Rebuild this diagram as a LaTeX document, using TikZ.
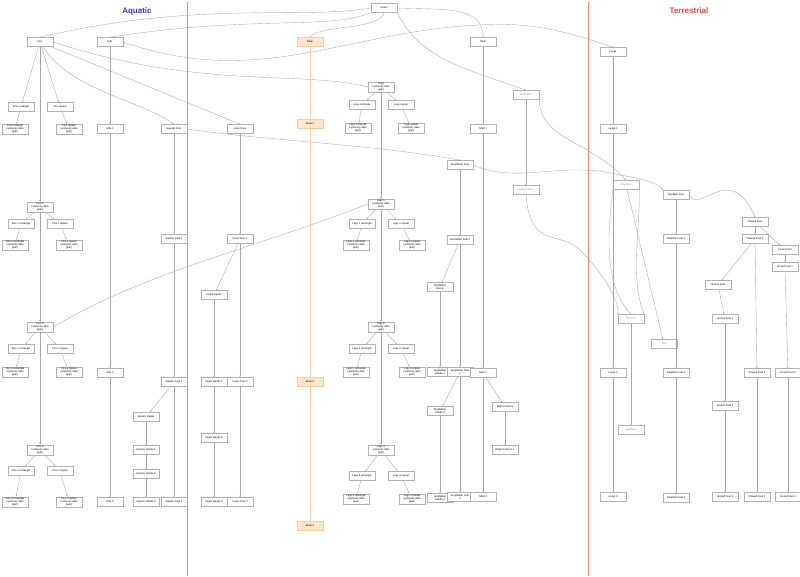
\documentclass[tikz,border=0pt]{standalone}
\usepackage{fontspec}
\setmainfont{Liberation Sans}
\usetikzlibrary{arrows.meta}
\begin{document}
\begin{tikzpicture}[x=1pt,y=-1pt,
 b/.style={draw=black!30,fill=white,line width=0.5pt,minimum width=26pt,minimum height=9pt,inner sep=1pt,font=\fontsize{2.6}{3}\selectfont,align=center},
 o/.style={b,fill=orange!20,draw=orange!40},
 g/.style={b,text=black!50},
 e/.style={draw=black!35,line width=0.35pt,-{Stealth[length=1.5pt,width=1.5pt]}},
 eo/.style={e,draw=orange!35}]
\useasboundingbox (0,0) rectangle (800,576);
\draw[line width=0.8pt,draw=blue!40] (187,2) -- (187,576);
\draw[line width=0.8pt,draw=red!50] (588,2) -- (588,576);
\node[text=blue!80,font=\bfseries\fontsize{8}{9}\selectfont] (ta) at (137,11) {Aquatic};
\node[text=red!75,font=\bfseries\fontsize{8}{9}\selectfont] (tt) at (689,11) {Terrestrial};
% nodes
\node[b] (ins) at (384,8) {Insect};
\node[b] (fins) at (40,42) {Fins};
\node[b] (gills) at (110,42) {Gills};
\node[o] (beak) at (310,42) {Beak};
\node[b] (shell) at (483,42) {Shell};
\node[b] (lungs) at (613,52) {Lungs};
\node[b] (legs) at (381,87) {Legs\\symmetry data\\(pair)};
\node[b] (legsr) at (362,105) {Legs rectangle};
\node[b] (legsp) at (401,105) {Legs repeat};
\node[b] (legsrd) at (358,128) {Legs rectangle\\symmetry data\\(pair)};
\node[b] (legspd) at (411,128) {Legs repeat\\symmetry data\\(pair)};
\node[b] (finsr) at (21,107) {Fins rectangle};
\node[b] (finsp) at (60,107) {Fins repeat};
\node[b] (finsrd) at (15,129) {Fins rectangle\\symmetry data\\(pair)};
\node[b] (finspd) at (69,129) {Fins repeat\\symmetry data\\(pair)};
\node[b] (g1) at (110,129) {Gills 1};
\node[b] (af) at (174,129) {Aquatic Feet};
\node[b] (if) at (240,129) {Insect Feet};
\node[o] (bk1) at (310,124) {Beak 1};
\node[b] (sh1) at (483,129) {Shell 1};
\node[b] (lu1) at (613,129) {Lungs 1};
\node[g] (ss) at (526,95) {Short Skin};
\node[b] (amf) at (460,165) {Amphibian Feet};
\node[g] (sc) at (526,190) {Scales Skin};
\node[g] (ds) at (626,185) {Dry Skin};
\node[b] (rf) at (676,195) {Reptilian Feet};
\node[b] (cf) at (755,222) {Clawed Feet};
\node[b] (ff) at (785,250) {Furred Feet};
\node[b] (ff1) at (785,267) {Furred Feet 1};
\node[b] (cf1) at (755,239) {Clawed Feet 1};
\node[b] (rf1) at (676,239) {Reptilian Feet 1};
\node[b] (hf) at (718,285) {Hoofed Feet};
\node[b] (hf1) at (725,319) {Hoofed Feet 1};
\node[b] (hf2) at (725,406) {Hoofed Feet 2};
\node[b] (hf3) at (725,497) {Hoofed Feet 3};
\node[b] (cf2) at (757,373) {Clawed Feet 2};
\node[b] (cf3) at (757,497) {Clawed Feet 3};
\node[b] (ff2) at (788,373) {Furred Feet 2};
\node[b] (ff3) at (788,497) {Furred Feet 3};
\node[b] (rf2) at (676,373) {Reptilian Feet 2};
\node[b] (rf3) at (676,498) {Reptilian Feet 3};
\node[b] (lu2) at (613,373) {Lungs 2};
\node[b] (lu3) at (613,497) {Lungs 3};
\node[g] (dt) at (631,319) {Dry Turf};
\node[g] (fur) at (664,344) {Fur};
\node[g] (fea) at (631,430) {Feathers};
\node[b] (f1) at (40,207) {Fins 1\\symmetry data\\(pair)};
\node[b] (f1r) at (21,224) {Fins 1 rectangle};
\node[b] (f1p) at (60,224) {Fins 1 repeat};
\node[b] (f1rd) at (15,245) {Fins 1 rectangle\\symmetry data\\(pair)};
\node[b] (f1pd) at (69,245) {Fins 1 repeat\\symmetry data\\(pair)};
\node[b] (af1) at (174,239) {Aquatic Feet 1};
\node[b] (if1) at (240,239) {Insect Feet 1};
\node[b] (ih) at (214,295) {Insect Hands};
\node[b] (l1) at (381,204) {Legs 1\\symmetry data\\(pair)};
\node[b] (l1r) at (362,224) {Legs 1 rectangle};
\node[b] (l1p) at (401,224) {Legs 1 repeat};
\node[b] (l1rd) at (356,245) {Legs 1 rectangle\\symmetry data\\(pair)};
\node[b] (l1pd) at (412,245) {Legs 1 repeat\\symmetry data\\(pair)};
\node[b] (amf1) at (460,240) {Amphibian Feet 1};
\node[b] (amh) at (440,287) {Amphibian\\Hands};
\node[b] (f2) at (40,327) {Fins 2\\symmetry data\\(pair)};
\node[b] (f2r) at (21,349) {Fins 2 rectangle};
\node[b] (f2p) at (60,349) {Fins 2 repeat};
\node[b] (f2rd) at (15,372) {Fins 2 rectangle\\symmetry data\\(pair)};
\node[b] (f2pd) at (69,372) {Fins 2 repeat\\symmetry data\\(pair)};
\node[b] (g2) at (110,373) {Gills 2};
\node[b] (af2) at (174,382) {Aquatic Feet 2};
\node[b] (ah) at (146,417) {Aquatic Hands};
\node[b] (ah1) at (146,450) {Aquatic Hands 1};
\node[b] (ah2) at (146,474) {Aquatic Hands 2};
\node[b] (ah3) at (146,502) {Aquatic Hands 3};
\node[b] (af3) at (174,502) {Aquatic Feet 3};
\node[b] (ih1) at (214,382) {Insect Hands 1};
\node[b] (ih2) at (214,438) {Insect Hands 2};
\node[b] (ih3) at (214,502) {Insect Hands 3};
\node[b] (if2) at (240,382) {Insect Feet 2};
\node[b] (if3) at (240,502) {Insect Feet 3};
\node[o] (bk2) at (310,382) {Beak 2};
\node[o] (bk3) at (310,526) {Beak 3};
\node[b] (l2) at (381,327) {Legs 2\\symmetry data\\(pair)};
\node[b] (l2r) at (362,349) {Legs 2 rectangle};
\node[b] (l2p) at (401,349) {Legs 2 repeat};
\node[b] (l2rd) at (356,372) {Legs 2 rectangle\\symmetry data\\(pair)};
\node[b] (l2pd) at (412,372) {Legs 2 repeat\\symmetry data\\(pair)};
\node[b] (amh1) at (440,372) {Amphibian\\Hands 1};
\node[b] (amf2) at (460,372) {Amphibian Feet\\2};
\node[b] (amh2) at (440,411) {Amphibian\\Hands 2};
\node[b] (amh3) at (440,498) {Amphibian\\Hands 3};
\node[b] (amf3) at (460,497) {Amphibian Feet\\3};
\node[b] (sh2) at (483,373) {Shell 2};
\node[b] (br) at (505,407) {Bright Colours};
\node[b] (br1) at (505,450) {Bright Colours 1};
\node[b] (sh3) at (483,497) {Shell 3};
\node[b] (f3) at (40,450) {Fins 3\\symmetry data\\(pair)};
\node[b] (f3r) at (21,471) {Fins 3 rectangle};
\node[b] (f3p) at (60,471) {Fins 3 repeat};
\node[b] (f3rd) at (15,502) {Fins 3 rectangle\\symmetry data\\(pair)};
\node[b] (f3pd) at (69,502) {Fins 3 repeat\\symmetry data\\(pair)};
\node[b] (g3) at (110,502) {Gills 3};
\node[b] (l3) at (381,450) {Legs 3\\symmetry data\\(pair)};
\node[b] (l3r) at (362,476) {Legs 3 rectangle};
\node[b] (l3p) at (401,476) {Legs 3 repeat};
\node[b] (l3rd) at (356,499) {Legs 3 rectangle\\symmetry data\\(pair)};
\node[b] (l3pd) at (412,499) {Legs 3 repeat\\symmetry data\\(pair)};
% edges
\draw[e] (ins.west) .. controls (300,20) and (200,0) .. (fins.north);
\draw[e] (ins.south west) .. controls (330,30) and (250,15) .. (gills.north);
\draw[e] (ins.south) .. controls (380,30) and (320,25) .. (beak.north);
\draw[e] (ins.east) .. controls (440,10) and (483,5) .. (shell.north);
\draw[e] (ins.south east) .. controls (420,60) and (470,70) .. (ss.north);
\draw[e] (gills.east) .. controls (260,90) and (350,30) .. (480,25) .. controls (540,20) and (590,40) .. (lungs.north);
\draw[e] (fins.east) .. controls (200,90) and (300,70) .. (legs.west);
\foreach \a/\c in {fins/finsr,fins/finsp,finsr/finsrd,finsp/finspd,fins/f1,gills/g1,g1/g2,g2/g3,
 shell/sh1,sh1/sh2,sh2/sh3,sh2/br,br/br1,lungs/lu1,lu1/lu2,lu2/lu3,legs/legsr,legs/legsp,legsr/legsrd,legsp/legspd,legs/l1,
 f1/f1r,f1/f1p,f1r/f1rd,f1p/f1pd,f1/f2,f2/f2r,f2/f2p,f2r/f2rd,f2p/f2pd,f2/f3,f3/f3r,f3/f3p,f3r/f3rd,f3p/f3pd,
 l1/l1r,l1/l1p,l1r/l1rd,l1p/l1pd,l1/l2,l2/l2r,l2/l2p,l2r/l2rd,l2p/l2pd,l2/l3,l3/l3r,l3/l3p,l3r/l3rd,l3p/l3pd,
 af/af1,af1/af2,af2/af3,af2/ah,ah/ah1,ah1/ah2,ah2/ah3,if/if1,if1/ih,ih/ih1,ih1/ih2,ih2/ih3,if1/if2,if2/if3,
 amf/amf1,amf1/amh,amh/amh1,amf1/amf2,amf2/amh2,amh2/amh3,amf2/amf3,ss/sc,
 rf/rf1,rf1/rf2,rf2/rf3,cf/cf1,cf1/cf2,cf2/cf3,cf/ff,ff/ff1,ff1/ff2,ff2/ff3,cf1/hf,hf/hf1,hf1/hf2,hf2/hf3,
 ds/fur,dt/fea}
 \draw[e] (\a) -- (\c);
\draw[e] (fins) .. controls (70,90) and (140,100) .. (af.north);
\draw[e] (fins) -- (if.north);
\draw[eo] (beak) -- (bk1);
\draw[eo] (bk1) -- (bk2);
\draw[eo] (bk2) -- (bk3);
\draw[e] (af.east) .. controls (260,140) and (380,145) .. (amf.north);
\draw[e] (amf.east) .. controls (520,185) and (560,160) .. (620,175) .. controls (650,180) and (660,185) .. (rf.north west);
\draw[e] (rf.east) .. controls (700,215) and (730,160) .. (cf.north);
\draw[e] (ss.south east) .. controls (540,140) and (590,140) .. (ds.north);
\draw[e] (sc.south) .. controls (530,250) and (560,230) .. (580,250) .. controls (600,270) and (620,300) .. (dt.north west);
\draw[e] (ds.south west) .. controls (610,220) and (600,280) .. (dt.north);
\draw[e] (ds.south east) .. controls (640,230) and (630,280) .. (dt.north east);
\draw[e] (l1.west) .. controls (250,250) and (150,270) .. (f2.east);
\end{tikzpicture}
\end{document}
